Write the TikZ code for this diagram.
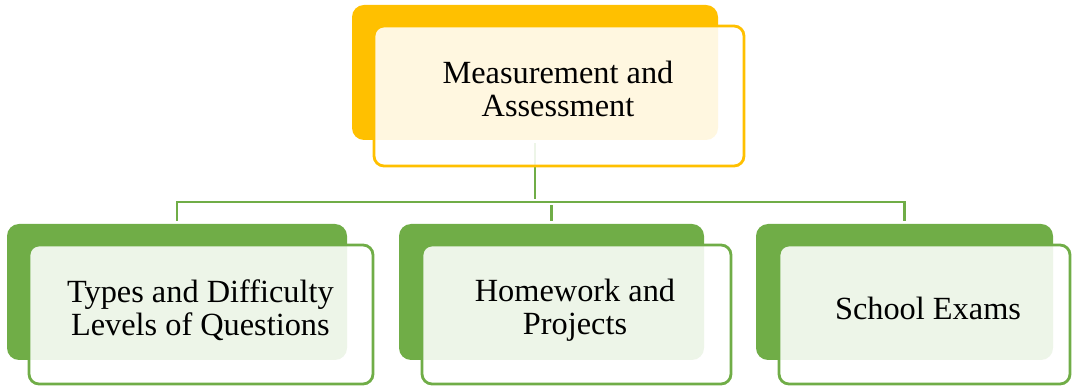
\documentclass[tikz,border=0pt]{standalone}
\usepackage{fontspec}
\setmainfont{Liberation Serif}
\usepackage{tikz}

\definecolor{gold}{HTML}{FFC000}
\definecolor{leaf}{HTML}{70AD47}

\tikzset{
  backbox/.style={rectangle, rounded corners=0.3cm, inner sep=0pt},
  frontbox/.style={rectangle, rounded corners=0.25cm, inner sep=0pt, line width=2pt,
    fill=white, fill opacity=0.88},
  label/.style={align=center, font=\fontsize{23}{23}\selectfont},
  conn/.style={draw=leaf, line width=1.5pt, shorten <=0.08cm, shorten >=0.08cm}
}

\begin{document}
\begin{tikzpicture}
\useasboundingbox (0,0) rectangle (26.8,9.675);

\node[backbox, fill=gold, minimum width=9.15cm, minimum height=3.375cm] (main) at (13.375,7.8625) {};

\node[backbox, fill=leaf, minimum width=8.5cm, minimum height=3.4cm] (types) at (4.425,2.375) {};
\node[backbox, fill=leaf, minimum width=7.625cm, minimum height=3.4cm] (homework) at (13.7875,2.375) {};
\node[backbox, fill=leaf, minimum width=7.425cm, minimum height=3.4cm] (exams) at (22.6125,2.375) {};

\coordinate (bar) at (13.375,4.625);
\draw[conn] (main.south) -- (bar);
\draw[conn] (types.north) |- (bar) -| (exams.north);
\draw[conn] (homework.north) -- (homework.north |- bar);

\node[frontbox, draw=gold, minimum width=9.25cm, minimum height=3.5cm] (mainfront) at (13.975,7.275) {};
\node[frontbox, draw=leaf, minimum width=8.6cm, minimum height=3.475cm] (typesfront) at (5.025,1.8125) {};
\node[frontbox, draw=leaf, minimum width=7.725cm, minimum height=3.475cm] (homeworkfront) at (14.4125,1.8125) {};
\node[frontbox, draw=leaf, minimum width=7.275cm, minimum height=3.475cm] (examsfront) at (23.1125,1.8125) {};

\node[label] (maintext) at (13.95,7.45) {Measurement and\\Assessment};
\node[label] (typestext) at (5.01,1.92) {Types and Difficulty\\Levels of Questions};
\node[label] (homeworktext) at (14.375,1.92) {Homework and\\Projects};
\node[label] (examstext) at (23.2,1.96) {School Exams};
\end{tikzpicture}
\end{document}
